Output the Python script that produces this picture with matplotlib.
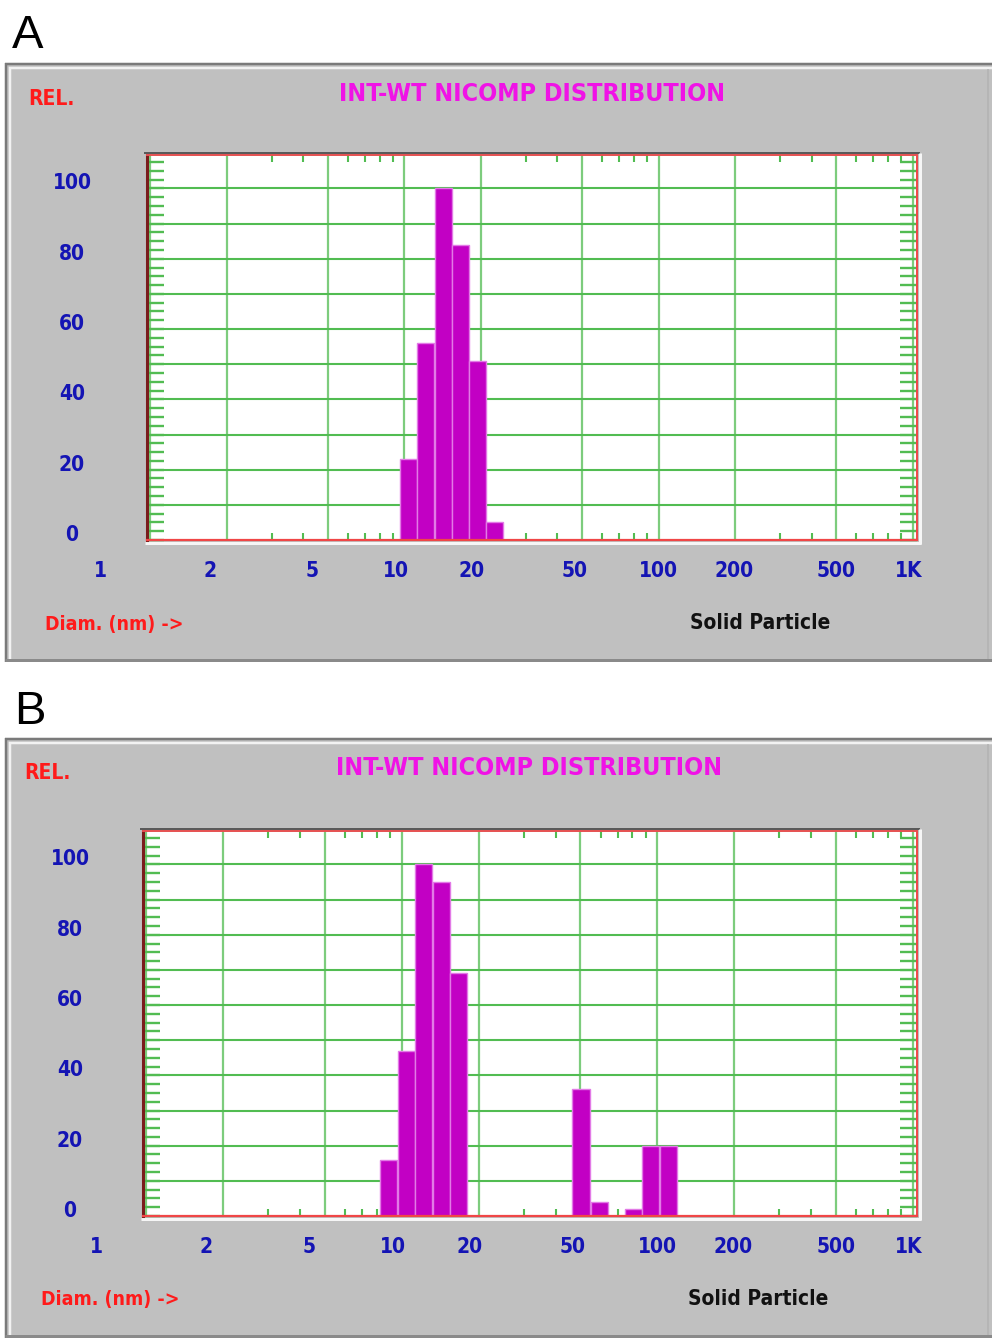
import numpy as np
import matplotlib
matplotlib.use("Agg")
import matplotlib.pyplot as plt
from matplotlib.patches import Rectangle
from matplotlib.ticker import FixedLocator, NullFormatter, MultipleLocator
from matplotlib.transforms import blended_transform_factory, ScaledTranslation
from matplotlib import font_manager

# ---- data: intensity-weighted NICOMP size distributions ----
diam_a = [10.4, 12.1, 14.2, 16.6, 19.4, 22.7]          # nm, bin centres
rel_a = [23, 56, 100, 84, 51, 5]                       # relative intensity

diam_b = [8.9, 10.4, 12.2, 14.3, 16.7, 50.3, 59.5, 80.6, 94.2, 110.5]
rel_b = [16, 47, 100, 95, 69, 36, 4, 2, 20, 20]

x_ticks = [1, 2, 5, 10, 20, 50, 100, 200, 500, 1000]
x_tick_labels = ["1", "2", "5", "10", "20", "50", "100", "200", "500", "1K"]
y_ticks = [0, 20, 40, 60, 80, 100]
y_tick_labels = ["0", "20", "40", "60", "80", "100"]
panel_letters = ["A", "B"]
title_text = "INT-WT NICOMP DISTRIBUTION"
y_name = "REL."
x_name = "Diam. (nm) ->"
mode_text = "Solid Particle"

# ---- styling ----
W, H = 992, 1341
names = {f.name for f in font_manager.fontManager.ttflist}
if "Liberation Sans Narrow" in names:
    FONT = ["Liberation Sans Narrow", "DejaVu Sans"]
    STRETCH = "normal"
else:
    FONT = ["DejaVu Sans"]
    STRETCH = "condensed"
GRAY = "#c0c0c0"
GREEN = "#52bc52"
BAR = "#c200c4"
BAR_EDGE = "#e27ae6"
BLUE = "#1414b4"
RED = "#ff1a1a"
MAGENTA = "#f012e6"
BIN_LOG = 0.067                       # log10 width of one size bin
x_label_dx = [-50, -17, -16, -9, -9, -8, 0, -1, 0, -4]   # px nudges of x labels

panels = [
    dict(box=(5, 63, 992, 662), plot=(147, 155, 917, 540), letter=(28, 48),
         rel=(51, 99), title=(532, 94), ylab_x=72, xlab_y=571,
         diam=(114, 624), solid=(760, 623), d=diam_a, v=rel_a),
    dict(box=(5, 738, 992, 1338), plot=(143, 831, 917, 1216), letter=(30, 724),
         rel=(47, 773), title=(529, 768), ylab_x=70, xlab_y=1247,
         diam=(110, 1300), solid=(758, 1299), d=diam_b, v=rel_b),
]

fig = plt.figure(figsize=(W / 100, H / 100), dpi=100)
fig.patch.set_facecolor("white")
bg = fig.add_axes([0, 0, 1, 1])
bg.set_xlim(0, W)
bg.set_ylim(H, 0)
bg.axis("off")


def hline(x0, x1, y, color, lw):
    bg.plot([x0, x1], [y, y], color=color, lw=lw * 0.72, solid_capstyle="butt")


def vline(x, y0, y1, color, lw):
    bg.plot([x, x], [y0, y1], color=color, lw=lw * 0.72, solid_capstyle="butt")


def label(x, y, s, size, color, **kw):
    return bg.text(x, y, s, fontsize=size, family=FONT, stretch=STRETCH,
                   weight="bold", color=color, ha="center", va="center", **kw)


for letter, p in zip(panel_letters, panels):
    x0, y0, x1, y1 = p["box"]
    # window frame with bevel
    bg.add_patch(Rectangle((x0, y0), x1 - x0, y1 - y0, facecolor=GRAY, edgecolor="none"))
    hline(x0, x1, y0 + 1, "#7a7a7a", 2.5)
    vline(x0 + 1, y0, y1, "#7a7a7a", 2.5)
    hline(x0 + 4, x1, y0 + 5, "#f2f2f2", 2.5)
    vline(x0 + 5, y0 + 4, y1 - 3, "#f2f2f2", 2.5)
    hline(x0, x1, y1 - 2, "#8a8a8a", 3)
    vline(x1 - 4, y0 + 6, y1 - 3, "#b2b2b2", 1.5)

    L, T, R, B = p["plot"]
    # sunken border round the plotting area
    hline(L - 3, R + 3, T - 2, "#5a5a5a", 2)
    hline(L - 2, R + 4, B + 3, "#f6f6f6", 3)
    vline(R + 3, T - 2, B + 4, "#f6f6f6", 3)

    bg.text(*p["letter"], letter, fontsize=34, family=["Liberation Sans", "DejaVu Sans"],
            ha="center", va="baseline", color="black")
    label(*p["rel"], y_name, 15, RED)
    label(*p["title"], title_text, 18, MAGENTA)
    label(*p["diam"], x_name, 14, RED)
    label(*p["solid"], mode_text, 15, "#111111")

    ax = fig.add_axes([L / W, 1 - B / H, (R - L) / W, (B - T) / H])
    ax.set_facecolor("white")
    ax.set_xscale("log")
    ax.set_xlim(0.97, 1040)
    ax.set_ylim(0, 109.5)
    ax.set_axisbelow(True)

    d = np.asarray(p["d"], dtype=float)
    v = np.asarray(p["v"], dtype=float)
    half = 10 ** (BIN_LOG / 2)
    ax.bar(d / half, v, width=d * half - d / half, align="edge",
           color=BAR, edgecolor=BAR_EDGE, linewidth=1.0, zorder=2)

    # x axis: grid at 1-2-5, short ticks at the other decade steps
    ax.xaxis.set_major_locator(FixedLocator(x_ticks))
    ax.xaxis.set_major_formatter(NullFormatter())
    minor_x = [m * 10 ** k for k in range(3) for m in (3, 4, 6, 7, 8, 9)]
    ax.xaxis.set_minor_locator(FixedLocator(minor_x))
    ax.xaxis.set_minor_formatter(NullFormatter())
    ax.tick_params(axis="x", which="major", length=0)
    ax.tick_params(axis="x", which="minor", direction="in", top=True, bottom=True,
                   length=5, width=1.5, color=GREEN)

    # y axis: grid every 10, comb ticks every 2.5 on both sides
    ax.yaxis.set_major_locator(FixedLocator(np.arange(10, 101, 10)))
    ax.yaxis.set_major_formatter(NullFormatter())
    ax.yaxis.set_minor_locator(MultipleLocator(2.5))
    ax.yaxis.set_minor_formatter(NullFormatter())
    ax.tick_params(axis="y", which="both", direction="in", left=True, right=True,
                   length=12, width=1.7, color=GREEN)

    ax.grid(axis="x", which="major", color=GREEN, lw=1.6, alpha=0.75)
    ax.grid(axis="y", which="major", color=GREEN, lw=1.5)

    ax.spines["left"].set_color("#7a1c1c")
    ax.spines["left"].set_linewidth(2.2)
    ax.spines["top"].set_color("#e65050")
    ax.spines["top"].set_linewidth(1.4)
    ax.spines["bottom"].set_color("#f04646")
    ax.spines["bottom"].set_linewidth(1.6)
    ax.spines["right"].set_color("#f04646")
    ax.spines["right"].set_linewidth(1.4)

    # tick labels in the instrument's own placement
    tx = blended_transform_factory(ax.transData, ax.transAxes)
    xl_y = (B - p["xlab_y"]) / (B - T)
    for val, lab, dx in zip(x_ticks, x_tick_labels, x_label_dx):
        ax.text(val, xl_y, lab, transform=tx + ScaledTranslation(dx / 100, 0, fig.dpi_scale_trans),
                fontsize=15, family=FONT, stretch=STRETCH, weight="bold", color=BLUE,
                ha="center", va="center", clip_on=False)
    ty = blended_transform_factory(ax.transAxes, ax.transData)
    yl_x = (p["ylab_x"] - L) / (R - L)
    for val, lab in zip(y_ticks, y_tick_labels):
        ax.text(yl_x, val, lab, transform=ty + ScaledTranslation(0, 5 / 100, fig.dpi_scale_trans),
                fontsize=15, family=FONT, stretch=STRETCH, weight="bold", color=BLUE,
                ha="center", va="center", clip_on=False)

fig.savefig("out.png", dpi=100)
